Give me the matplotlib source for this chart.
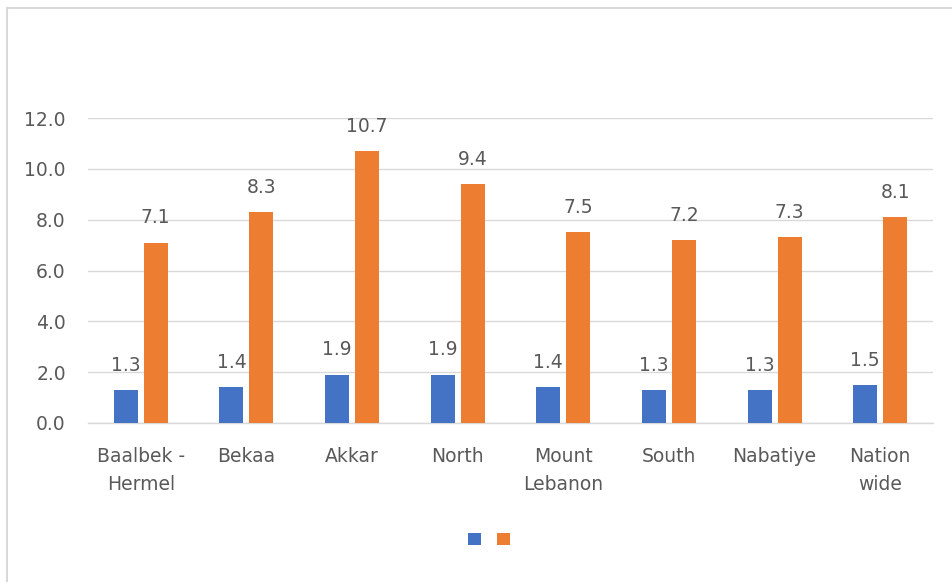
import matplotlib
matplotlib.use("Agg")
import matplotlib.pyplot as plt
from matplotlib.patches import Rectangle
import numpy as np

categories = ["Baalbek -\nHermel", "Bekaa", "Akkar", "North", "Mount\nLebanon",
              "South", "Nabatiye", "Nation\nwide"]
values_1 = [1.3, 1.4, 1.9, 1.9, 1.4, 1.3, 1.3, 1.5]
values_2 = [7.1, 8.3, 10.7, 9.4, 7.5, 7.2, 7.3, 8.1]
y_ticks = [0, 2, 4, 6, 8, 10, 12]

BLUE = "#4472C4"
ORANGE = "#ED7D31"
TEXT = "#595959"
GRID = "#D9D9D9"
FS = 13.5

plt.rcParams["font.family"] = ["DejaVu Sans"]

fig = plt.figure(figsize=(9.52, 5.82), dpi=100)
ax = fig.add_axes([88 / 952, 1 - 423 / 582, (933 - 88) / 952, (423 - 118) / 582])

x = np.arange(len(categories))
w = 0.227
off = 0.142
b1 = ax.bar(x - off, values_1, w, color=BLUE, zorder=3)
b2 = ax.bar(x + off, values_2, w, color=ORANGE, zorder=3)

for bars, vals in ((b1, values_1), (b2, values_2)):
    for rect, v in zip(bars, vals):
        ax.annotate(f"{v:.1f}", (rect.get_x() + rect.get_width() / 2, v),
                    xytext=(0, 11), textcoords="offset points",
                    ha="center", va="bottom", fontsize=FS, color=TEXT)

ax.set_xlim(-0.5, len(categories) - 0.5)
ax.set_ylim(0, 12)
ax.set_yticks(y_ticks)
ax.set_yticklabels([f"{t:.1f}" for t in y_ticks])
ax.set_xticks(x)
ax.set_xticklabels(categories, linespacing=1.6)
ax.tick_params(axis="y", length=0, pad=16, labelsize=FS, labelcolor=TEXT)
ax.tick_params(axis="x", length=0, pad=17, labelsize=FS, labelcolor=TEXT)
ax.grid(axis="y", color=GRID, linewidth=1.0, zorder=0)
for side in ("left", "right", "top"):
    ax.spines[side].set_visible(False)
ax.spines["bottom"].set_color(GRID)
ax.spines["bottom"].set_linewidth(1.0)

fig.legend([b1, b2], ["", ""], loc="center", bbox_to_anchor=(489 / 952, 1 - 540 / 582),
           ncol=2, frameon=False, fontsize=10, handlelength=0.95, handleheight=0.95,
           handletextpad=0.0, columnspacing=1.15, borderpad=0)

fig.add_artist(Rectangle((7 / 952, -0.05), 1.1, 1 - 8 / 582 + 0.05,
                         transform=fig.transFigure, fill=False,
                         edgecolor=GRID, linewidth=1.5))

fig.savefig("out.png", dpi=100)
